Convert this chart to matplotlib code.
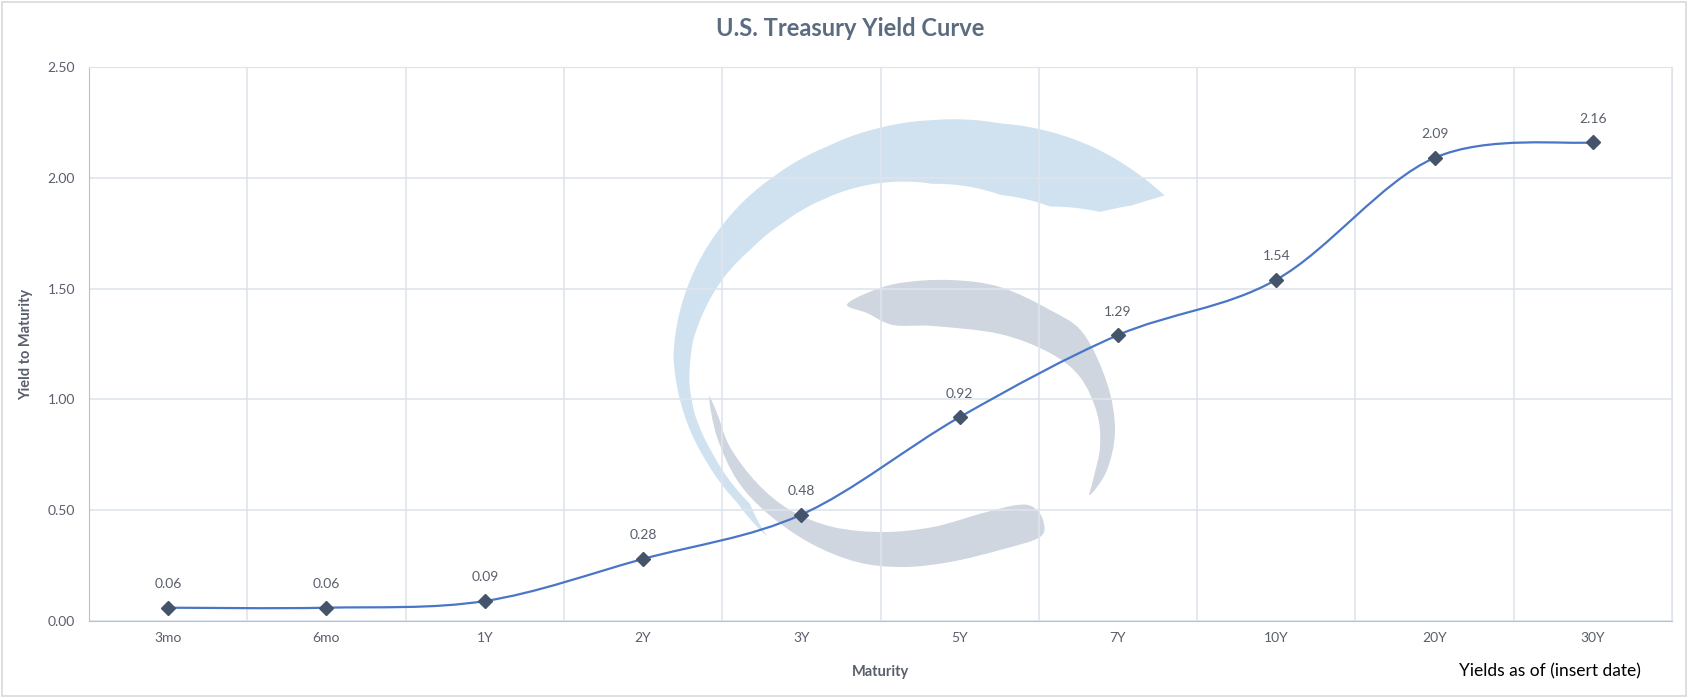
import matplotlib.pyplot as plt
from matplotlib.path import Path
from matplotlib.patches import PathPatch, Rectangle, Polygon
import numpy as np

plt.rcParams['font.family'] = ['Lato', 'DejaVu Sans']

maturities = ['3mo', '6mo', '1Y', '2Y', '3Y', '5Y', '7Y', '10Y', '20Y', '30Y']
yields = [0.06, 0.06, 0.09, 0.28, 0.48, 0.92, 1.29, 1.54, 2.09, 2.16]
y_ticks = [0.0, 0.5, 1.0, 1.5, 2.0, 2.5]

W, H = 1688, 698
TXT = '#595f6b'
GRID = '#dfe4ec'


def smooth_path(pts, closed=False):
    # excel-like smoothed line: cubic bezier segments through the points
    pts = np.asarray(pts, dtype=float)
    n = len(pts)
    verts = [pts[0]]
    codes = [Path.MOVETO]
    last = n if closed else n - 1
    for i in range(last):
        p0 = pts[(i - 1) % n] if (closed or i > 0) else pts[0]
        p1 = pts[i]
        p2 = pts[(i + 1) % n]
        p3 = pts[(i + 2) % n] if (closed or i + 2 < n) else pts[-1]
        c1 = p1 + (p2 - p0) / 6
        c2 = p2 - (p3 - p1) / 6
        verts += [c1, c2, p2]
        codes += [Path.CURVE4] * 3
    return Path(verts, codes)


def polar_band(cx, cy, outer, inner, n=200):
    # crescent between two radius profiles around (cx, cy), pixel coords, y down
    def edge(anchors, t0, t1):
        a = sorted(anchors)
        th = np.linspace(t0, t1, n)
        r = np.interp(th, [p[0] for p in a], [p[1] for p in a])
        return np.column_stack([cx + r * np.cos(np.radians(th)),
                                cy - r * np.sin(np.radians(th))])
    t_lo = min(p[0] for p in outer)
    t_hi = max(p[0] for p in outer)
    return np.vstack([edge(outer, t_hi, t_lo), edge(inner, t_lo, t_hi)])


fig = plt.figure(figsize=(W / 100, H / 100), dpi=100)

# background layer in pixel coords: border + watermark logo
bg = fig.add_axes([0, 0, 1, 1], zorder=0)
bg.set_xlim(0, W)
bg.set_ylim(H, 0)
bg.axis('off')
bg.add_patch(Rectangle((2, 2), W - 4, H - 4, fill=False, ec='#d9d9d9', lw=1.2))

blue_outer = [(231.5, 213), (219, 210), (205.7, 214), (194.5, 219), (176.5, 227), (162, 228),
              (143, 229), (123, 231), (108, 235), (94.7, 243), (82.5, 252), (68, 266),
              (47.7, 297), (33.4, 317)]
blue_inner = [(33.4, 317), (35.3, 285), (38.3, 255), (47.4, 222), (60, 202), (80, 189), (96, 188),
              (114.4, 187), (128.5, 188), (141.3, 192), (152.3, 199), (162, 204), (171.8, 209),
              (183.5, 211), (192, 210), (204.4, 205), (221.6, 201), (231.5, 213)]
bg.add_patch(Polygon(polar_band(900, 370, blue_outer, blue_inner), closed=True,
                     fc='#d0e2f0', ec='none'))

gray_top = [(847, 305), (867, 293), (900, 283), (950, 280), (1000, 287), (1050, 310), (1083, 333),
            (1107, 383), (1115, 430), (1107, 470), (1090, 495), (1093, 480), (1100, 447), (1097, 413),
            (1080, 377), (1050, 353), (1000, 334), (933, 326), (893, 325), (867, 313)]
gray_low = [(709, 397), (717, 437), (737, 480), (767, 513), (810, 543), (857, 562), (903, 567),
            (950, 562), (1000, 550), (1040, 537), (1043, 520), (1033, 507), (1017, 505), (983, 513),
            (933, 527), (883, 532), (833, 527), (790, 510), (757, 483), (730, 447), (717, 413)]
for pts in [gray_top, gray_low]:
    bg.add_patch(PathPatch(smooth_path(pts, closed=True), fc='#cfd6df', ec='none'))

ax = fig.add_axes([89 / W, 77 / H, 1583 / W, 554 / H], zorder=1)
ax.set_facecolor('none')

x = np.arange(len(maturities))
ax.add_patch(PathPatch(smooth_path(np.column_stack([x, yields])), fc='none',
                       ec='#4a76c6', lw=1.6, zorder=3))
ax.plot(x, yields, 'D', ms=7, color='#44546a', zorder=4)
for xi, yi in zip(x, yields):
    ax.annotate(f'{yi:.2f}', (xi, yi), xytext=(0, 17), textcoords='offset points',
                ha='center', va='center', fontsize=10, color=TXT)

ax.set_xlim(-0.5, len(maturities) - 0.5)
ax.set_ylim(0, 2.5)
ax.set_xticks(x)
ax.set_xticklabels(maturities)
ax.set_xticks(np.arange(-0.5, len(maturities)), minor=True)
ax.set_yticks(y_ticks)
ax.set_yticklabels([f'{v:.2f}' for v in y_ticks])
ax.grid(True, axis='y', color=GRID, lw=1.2)
ax.grid(True, axis='x', which='minor', color=GRID, lw=1.2)
ax.tick_params(axis='both', which='both', length=0, labelsize=10, labelcolor=TXT)
ax.tick_params(axis='y', pad=10)
ax.tick_params(axis='x', pad=8)
for s in ['top', 'right']:
    ax.spines[s].set_color(GRID)
for s in ['left', 'bottom']:
    ax.spines[s].set_color('#b4c0d3')
ax.set_xlabel('Maturity', fontsize=10.5, fontweight='bold', color=TXT)
ax.set_ylabel('Yield to Maturity', fontsize=10.5, fontweight='bold', color=TXT)
ax.xaxis.set_label_coords(0.5, -0.079)
ax.yaxis.set_label_coords(-0.035, 0.5)

fig.text(850 / W, 1 - 29 / H, 'U.S. Treasury Yield Curve', ha='center', va='center',
         fontsize=17, fontweight='bold', color='#5b6b80')
fig.text(1641 / W, 1 - 671 / H, 'Yields as of (insert date)', ha='right', va='center',
         fontsize=12.5, color='black')

fig.savefig('out.png', dpi=100)
